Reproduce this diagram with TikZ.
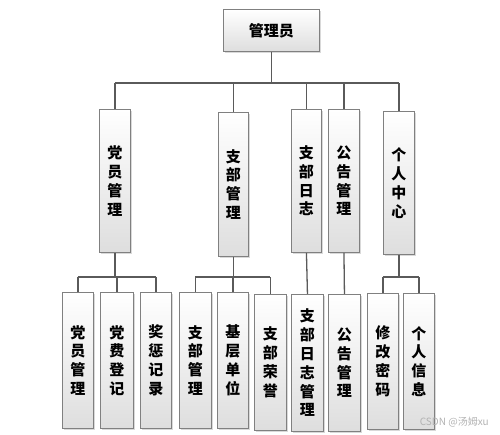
\documentclass[tikz,border=0pt]{standalone}
\usepackage{fontspec}
\newfontfamily\cjk{Noto Sans CJK SC}
\usetikzlibrary{shadows}
\definecolor{boxline}{HTML}{808080}
\definecolor{conn}{HTML}{5A5A5A}
\tikzset{
  box/.style={draw=boxline, line width=0.9pt, top color=white, bottom color=black!13,
    anchor=north west, inner sep=0pt, align=center,
    font=\cjk\bfseries\fontsize{15}{18.8}\selectfont,
    drop shadow={shadow xshift=1.2pt, shadow yshift=-1.2pt, fill=black!25, opacity=0.6}},
  conn/.style={draw=conn, line width=1.3pt},
}
\begin{document}
\begin{tikzpicture}[x=1pt,y=-1pt]
\useasboundingbox (0,0) rectangle (500,435);
% level 1
\node[box, minimum width=96, minimum height=42] (root) at (223,9) {管理员};
% level 2
\node[box, minimum width=31, minimum height=143] (dy) at (99,109) {党\\员\\管\\理};
\node[box, minimum width=30, minimum height=144] (zb) at (218,112) {支\\部\\管\\理};
\node[box, minimum width=30, minimum height=143] (rz) at (291,109) {支\\部\\日\\志};
\node[box, minimum width=31, minimum height=143] (gg) at (328,109) {公\\告\\管\\理};
\node[box, minimum width=31, minimum height=143] (gr) at (383,111) {个\\人\\中\\心};
% level 3
\node[box, minimum width=31, minimum height=136] (c1) at (62,292) {党\\员\\管\\理};
\node[box, minimum width=33, minimum height=136] (c2) at (100,292) {党\\费\\登\\记};
\node[box, minimum width=31, minimum height=136] (c3) at (140,292) {奖\\惩\\记\\录};
\node[box, minimum width=32, minimum height=136] (c4) at (179,292) {支\\部\\管\\理};
\node[box, minimum width=31, minimum height=136] (c5) at (217,292) {基\\层\\单\\位};
\node[box, minimum width=32, minimum height=136] (c6) at (254,294) {支\\部\\荣\\誉};
\node[box, minimum width=32, minimum height=137] (c7) at (291,294) {支\\部\\日\\志\\管\\理};
\node[box, minimum width=32, minimum height=137] (c8) at (328,294) {公\\告\\管\\理};
\node[box, minimum width=31, minimum height=136] (c9) at (367,293) {修\\改\\密\\码};
\node[box, minimum width=31, minimum height=136] (c10) at (403,293) {个\\人\\信\\息};
% bar coordinates
\coordinate (b1) at (0,83);
\coordinate (b2) at (0,277);
% level 1 -> 2
\draw[conn] (root.south) -- (root.south |- b1);
\draw[conn] (dy.north |- b1) -- (gr.north |- b1);
\foreach \n in {dy,zb,rz,gg,gr} \draw[conn] (\n.north) -- (\n.north |- b1);
% level 2 -> 3
\draw[conn] (dy.south) -- (dy.south |- b2);
\draw[conn] (c1.north |- b2) -- (c3.north |- b2);
\foreach \n in {c1,c2,c3} \draw[conn] (\n.north) -- (\n.north |- b2);
\draw[conn] (zb.south) -- (zb.south |- b2);
\draw[conn] (c4.north |- b2) -- (c6.north |- b2);
\foreach \n in {c4,c5,c6} \draw[conn] (\n.north) -- (\n.north |- b2);
\draw[conn] (rz.south) -- (c7.north);
\draw[conn] (gg.south) -- (c8.north);
\draw[conn] (gr.south) -- (gr.south |- b2);
\draw[conn] (c9.north |- b2) -- (c10.north |- b2);
\foreach \n in {c9,c10} \draw[conn] (\n.north) -- (\n.north |- b2);
% watermark
\node[anchor=east, text=black!30, inner sep=0pt, font=\cjk\fontsize{10}{12}\selectfont] (wm) at (489,422) {CSDN @汤姆xu};
\end{tikzpicture}
\end{document}
